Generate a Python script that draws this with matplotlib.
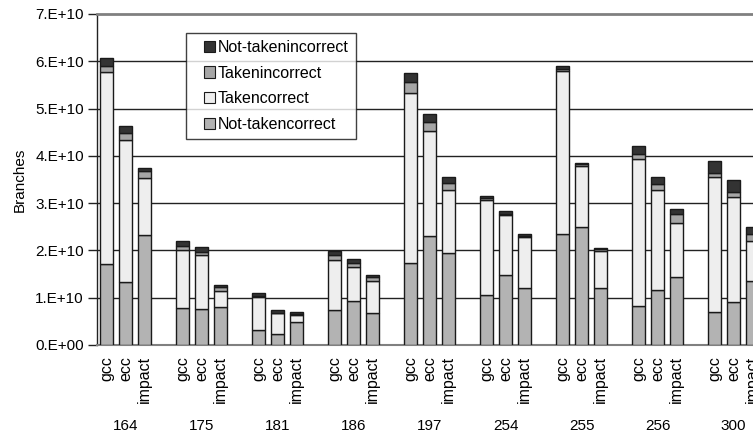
import matplotlib
matplotlib.use("Agg")
import matplotlib.pyplot as plt
import matplotlib.patches as mpatches
from matplotlib.legend_handler import HandlerPatch
import numpy as np
from matplotlib.ticker import FixedLocator, FuncFormatter

plt.rcParams['font.family'] = ['Liberation Sans', 'DejaVu Sans']

groups = ["164", "175", "181", "186", "197", "254", "255", "256", "300"]
compilers = ["gcc", "ecc", "impact"]

# values in units of 1E10, order per group: gcc, ecc, impact
not_taken_correct = [1.71, 1.34, 2.32, 0.79, 0.77, 0.81, 0.32, 0.24, 0.48,
                     0.74, 0.94, 0.67, 1.73, 2.30, 1.94, 1.06, 1.48, 1.21,
                     2.34, 2.50, 1.20, 0.83, 1.17, 1.44, 0.70, 0.91, 1.35]
taken_correct = [4.06, 2.99, 1.22, 1.21, 1.13, 0.34, 0.69, 0.43, 0.16,
                 1.05, 0.72, 0.69, 3.60, 2.22, 1.34, 2.00, 1.27, 1.07,
                 3.45, 1.28, 0.79, 3.10, 2.11, 1.15, 2.85, 2.22, 0.85]
taken_incorrect = [0.13, 0.16, 0.15, 0.09, 0.07, 0.07, 0.02, 0.01, 0.01,
                   0.11, 0.08, 0.08, 0.24, 0.19, 0.15, 0.04, 0.01, 0.02,
                   0.05, 0.04, 0.03, 0.10, 0.12, 0.17, 0.08, 0.10, 0.14]
not_taken_incorrect = [0.17, 0.15, 0.06, 0.11, 0.10, 0.04, 0.08, 0.05, 0.05,
                       0.09, 0.07, 0.05, 0.19, 0.17, 0.13, 0.05, 0.08, 0.04,
                       0.06, 0.02, 0.04, 0.18, 0.16, 0.11, 0.26, 0.27, 0.15]

series = [
    ("Not-takencorrect", not_taken_correct, "#b3b3b3"),
    ("Takencorrect", taken_correct, "#eeeeee"),
    ("Takenincorrect", taken_incorrect, "#a6a6a6"),
    ("Not-takenincorrect", not_taken_incorrect, "#333333"),
]

W, H = 753, 433
fig = plt.figure(figsize=(W / 100, H / 100), dpi=100)
ax = fig.add_axes([97 / W, (H - 345) / H, 665 / W, 331 / H])

xpos = []
xlabels = []
for g in range(len(groups)):
    for c in range(3):
        xpos.append(4 * g + c)
        xlabels.append(compilers[c])
xpos = np.array(xpos, dtype=float)

bottom = np.zeros(len(xpos))
proxies = {}
for name, vals, col in series:
    v = np.array(vals) * 1e10
    ax.bar(xpos, v, width=0.66, bottom=bottom, color=col,
           edgecolor="#1a1a1a", linewidth=1.0, zorder=3)
    proxies[name] = mpatches.Patch(facecolor=col, edgecolor="#1a1a1a", linewidth=0.8)
    bottom += v

ax.set_xlim(-0.5, 34.5)
ax.set_ylim(0, 7e10)
ax.yaxis.set_major_locator(FixedLocator([i * 1e10 for i in range(8)]))
ax.yaxis.set_major_formatter(FuncFormatter(
    lambda v, p: "0.E+00" if v == 0 else f"{int(round(v / 1e10))}.E+10"))
ax.tick_params(axis='y', direction='out', length=6.5, width=1, pad=3,
               labelsize=11, color='#222222')
ax.set_xticks(xpos)
ax.set_xticklabels(xlabels, rotation=90, fontsize=11.5, va='top', ha='center')
ax.tick_params(axis='x', length=0, pad=8)

for i in range(1, 7):
    ax.axhline(i * 1e10, color='#222222', linewidth=1.0, zorder=1)

for g, name in enumerate(groups):
    ax.text(4 * g + 1, -0.245, name, transform=ax.get_xaxis_transform(),
            ha='center', va='center', fontsize=11)

ax.set_ylabel("Branches", fontsize=11)
ax.yaxis.set_label_coords(-0.106, 0.5)

ax.spines['top'].set_color('#808080')
ax.spines['top'].set_linewidth(2)
ax.spines['right'].set_visible(False)
ax.spines['left'].set_color('#222222')
ax.spines['left'].set_linewidth(1)
ax.spines['bottom'].set_color('#808080')
ax.spines['bottom'].set_linewidth(1.5)


def square_patch(legend, orig_handle, xdescent, ydescent, width, height, fontsize):
    s = height
    return mpatches.Rectangle((-xdescent + width - s, -ydescent), s, s)


order = ["Not-takenincorrect", "Takenincorrect", "Takencorrect", "Not-takencorrect"]
leg = ax.legend([proxies[n] for n in order], order, loc='upper left',
                bbox_to_anchor=((186 - 97) / 665, (345 - 33) / 331),
                borderaxespad=0, fontsize=11.5, frameon=True, fancybox=False,
                handlelength=1.36, handleheight=0.72, handletextpad=0.2,
                labelspacing=0.66, borderpad=0.45,
                handler_map={mpatches.Patch: HandlerPatch(patch_func=square_patch)})
leg.get_frame().set_edgecolor('#111111')
leg.get_frame().set_linewidth(1.0)
leg.set_zorder(5)

fig.savefig("out.png", dpi=100)
